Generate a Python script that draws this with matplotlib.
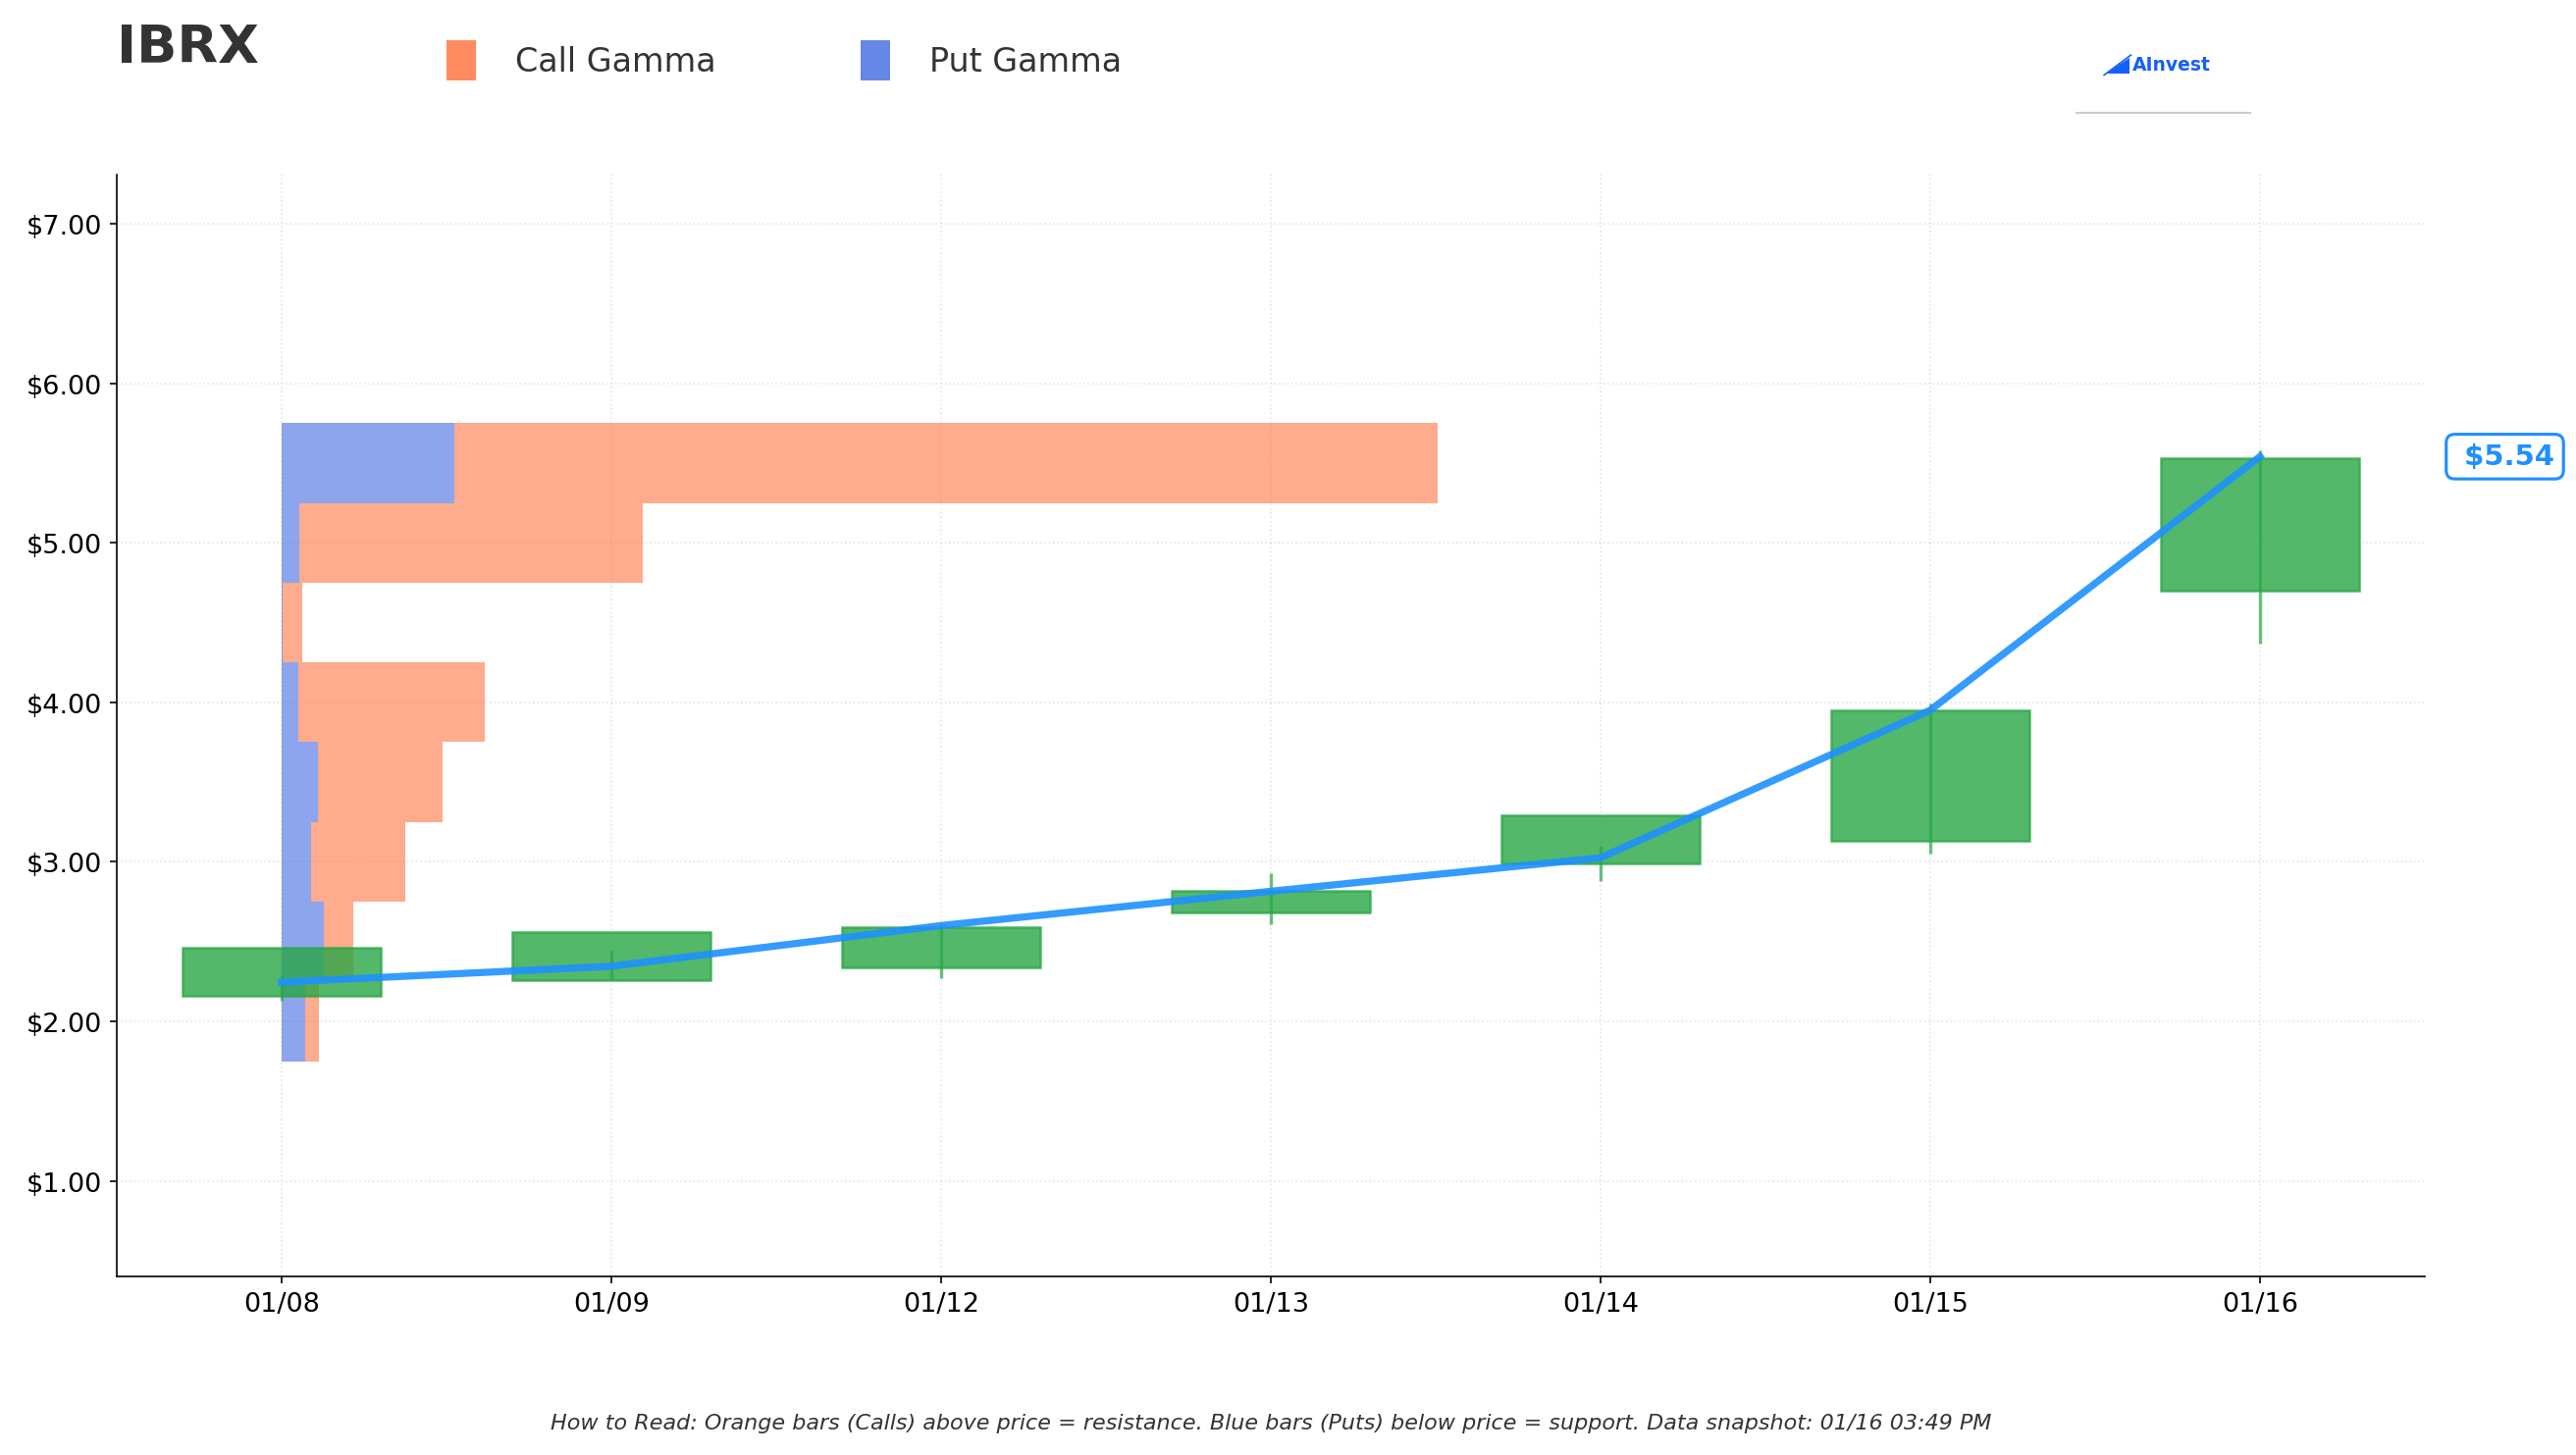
import matplotlib
matplotlib.use("Agg")
import matplotlib.pyplot as plt
from matplotlib.patches import Patch, Polygon
from matplotlib.lines import Line2D
import matplotlib.transforms as mtransforms

# price history (one candle per trading day)
DATES = ["01/08", "01/09", "01/12", "01/13", "01/14", "01/15", "01/16"]
OPENS = [2.16, 2.26, 2.34, 2.68, 2.99, 3.13, 4.70]
CLOSES = [2.46, 2.56, 2.59, 2.82, 3.29, 3.95, 5.53]
HIGHS = [2.29, 2.44, 2.62, 2.93, 3.10, 3.99, 5.58]
LOWS = [2.13, 2.26, 2.27, 2.61, 2.88, 3.05, 4.37]
PRICE = [2.245, 2.345, 2.60, 2.815, 3.025, 3.95, 5.54]
LAST_PRICE = 5.54

# gamma profile per strike, already scaled to day-widths on the x axis
STRIKES = [2.0, 2.5, 3.0, 3.5, 4.0, 4.5, 5.0, 5.5]
PUT_GAMMA = [0.072, 0.129, 0.090, 0.111, 0.051, 0.003, 0.054, 0.524]
CALL_GAMMA = [0.042, 0.089, 0.285, 0.377, 0.565, 0.059, 1.042, 2.981]

TICKER = "IBRX"
FOOTER = ("How to Read: Orange bars (Calls) above price = resistance. "
          "Blue bars (Puts) below price = support. Data snapshot: 01/16 03:49 PM")

CALL_COLOR = "#FF7F50"
PUT_COLOR = "#4169E1"
CANDLE_COLOR = "#28A745"
LINE_COLOR = "#1E90FF"

fig = plt.figure(figsize=(17.5, 9.8933), dpi=150)
ax = fig.add_axes([0.0453, 0.1226, 0.896, 0.7566])

x = list(range(len(DATES)))

# gamma bars: puts first from the first date, calls stacked after them
ax.barh(STRIKES, PUT_GAMMA, left=0, height=0.5, color=PUT_COLOR, alpha=0.6,
        linewidth=0, zorder=1)
ax.barh(STRIKES, CALL_GAMMA, left=PUT_GAMMA, height=0.5, color=CALL_COLOR,
        alpha=0.65, linewidth=0, zorder=1)

# candles
bodies = [c - o for o, c in zip(OPENS, CLOSES)]
ax.bar(x, bodies, bottom=OPENS, width=0.6, color=CANDLE_COLOR, alpha=0.8,
       edgecolor=CANDLE_COLOR, linewidth=1.2, zorder=2)
ax.vlines(x, LOWS, HIGHS, color=CANDLE_COLOR, alpha=0.7, linewidth=1.6, zorder=2)

# price line
ax.plot(x, PRICE, color=LINE_COLOR, linewidth=3.5, alpha=0.9, zorder=3)

# last price tag to the right of the plot
trans = mtransforms.blended_transform_factory(ax.transAxes, ax.transData)
ax.text(1.013, LAST_PRICE, " $%.2f" % LAST_PRICE, transform=trans, ha="left",
        va="center", fontsize=14, fontweight="bold", color=LINE_COLOR,
        bbox=dict(boxstyle="round,pad=0.3", facecolor="white",
                  edgecolor=LINE_COLOR, linewidth=1.5),
        clip_on=False, zorder=5)

ax.set_xlim(-0.5, 6.5)
ax.set_ylim(0.40, 7.306)
ax.set_xticks(x)
ax.set_xticklabels(DATES)
ax.set_yticks([1, 2, 3, 4, 5, 6, 7])
ax.set_yticklabels(["$%.2f" % v for v in [1, 2, 3, 4, 5, 6, 7]])
ax.tick_params(labelsize=13)
ax.spines["top"].set_visible(False)
ax.spines["right"].set_visible(False)
ax.grid(True, linestyle=":", color="#cccccc", linewidth=0.8, alpha=0.5)
ax.set_axisbelow(True)

# header
fig.text(0.0453, 0.967, TICKER, ha="left", va="center", fontsize=26,
         fontweight="bold", color="#333333")

handles = [Patch(facecolor=CALL_COLOR, alpha=0.9, label="Call Gamma"),
           Patch(facecolor=PUT_COLOR, alpha=0.8, label="Put Gamma")]
fig.legend(handles=handles, loc="center left", bbox_to_anchor=(0.1735, 0.958),
           ncol=2, frameon=False, fontsize=16, handlelength=0.9,
           handleheight=1.5, handletextpad=1.2, columnspacing=4.4,
           borderpad=0, borderaxespad=0, labelcolor="#333333")

# logo
fig.text(0.8278, 0.9555, "AInvest", ha="left", va="center", fontsize=9,
         fontweight="bold", color="#1560FA")
fig.add_artist(Polygon([[0.8175, 0.9485], [0.8265, 0.9485], [0.8265, 0.9595]],
                       closed=True, transform=fig.transFigure,
                       facecolor="#1560FA", edgecolor="none"))
fig.add_artist(Line2D([0.8168, 0.8272], [0.9478, 0.9615], transform=fig.transFigure,
                      color="#1560FA", linewidth=0.8))
fig.add_artist(Line2D([0.806, 0.8735], [0.922, 0.922], transform=fig.transFigure,
                      color="#cccccc", linewidth=1.0))

fig.text(0.4933, 0.022, FOOTER, ha="center", va="center", fontsize=10.7,
         style="italic", color="#333333")

fig.savefig("out.png", dpi=150)
